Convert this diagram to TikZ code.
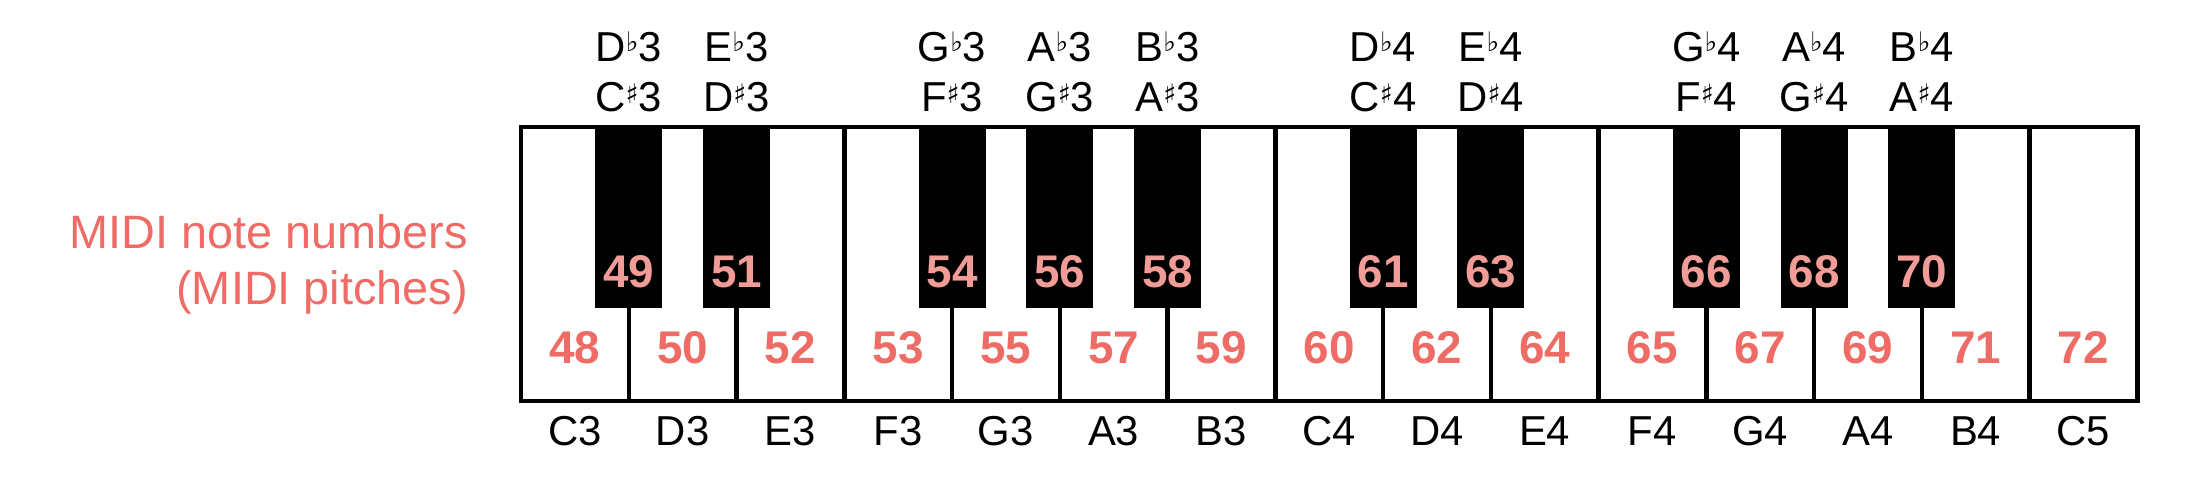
\documentclass[tikz,border=0pt]{standalone}
\usepackage{fontspec}
\setmainfont{Liberation Sans}
\newfontfamily\symfont{DejaVu Sans}
\definecolor{numred}{HTML}{EE6C65}
\definecolor{numpink}{HTML}{F29C97}
\newcommand\flt{\raisebox{10bp}{\symfont\fontsize{27}{27}\selectfont ♭}}
\newcommand\shp{\raisebox{8bp}{\symfont\fontsize{27}{27}\selectfont ♯}}
\tikzset{
  whitekey/.style={draw=black, fill=white, line width=4.5bp, minimum width=107.75bp, minimum height=274bp, inner sep=0pt, outer sep=0pt},
  blackkey/.style={fill=black, draw=none, minimum width=67bp, minimum height=181bp, inner sep=0pt, outer sep=0pt},
  wnum/.style={anchor=base, text=numred, inner sep=0pt, font=\fontsize{46}{46}\selectfont\bfseries},
  bnum/.style={anchor=base, text=numpink, inner sep=0pt, font=\fontsize{46}{46}\selectfont\bfseries},
  keyname/.style={anchor=base, text=black, inner sep=0pt, font=\fontsize{42}{42}\selectfont},
  sidelabel/.style={anchor=base east, text=numred, inner sep=0pt, align=right, font=\fontsize{47}{56}\selectfont}
}
\begin{document}
\begin{tikzpicture}[x=1bp,y=-1bp]
\useasboundingbox[fill=white] (0,0) rectangle (2192,484);
% white keys
\foreach \nm/\num [count=\i from 0] in {C3/48,D3/50,E3/52,F3/53,G3/55,A3/57,B3/59,C4/60,D4/62,E4/64,F4/65,G4/67,A4/69,B4/71,C5/72}{
  \pgfmathsetmacro{\cx}{521+(\i+0.5)*107.75}
  \node[whitekey] (w\i) at (\cx,264) {};
  \node[wnum] (wn\i) at (\cx,363) {\num};
  \node[keyname] (wl\i) at (\cx,445) {\nm};
}
% black keys
\foreach \k/\num/\up/\lo in {1/49/D\flt3/C\shp3, 2/51/E\flt3/D\shp3, 4/54/G\flt3/F\shp3, 5/56/A\flt3/G\shp3, 6/58/B\flt3/A\shp3, 8/61/D\flt4/C\shp4, 9/63/E\flt4/D\shp4, 11/66/G\flt4/F\shp4, 12/68/A\flt4/G\shp4, 13/70/B\flt4/A\shp4}{
  \pgfmathsetmacro{\cx}{521+\k*107.75}
  \node[blackkey] (b\k) at (\cx,217.5) {};
  \node[bnum] (bn\k) at (\cx,288) {\num};
  \node[keyname] (bu\k) at (\cx,62) {\up};
  \node[keyname] (bl\k) at (\cx,112) {\lo};
}
\node[sidelabel] (side) at (468,304) {MIDI note numbers\\(MIDI pitches)};
\end{tikzpicture}
\end{document}
